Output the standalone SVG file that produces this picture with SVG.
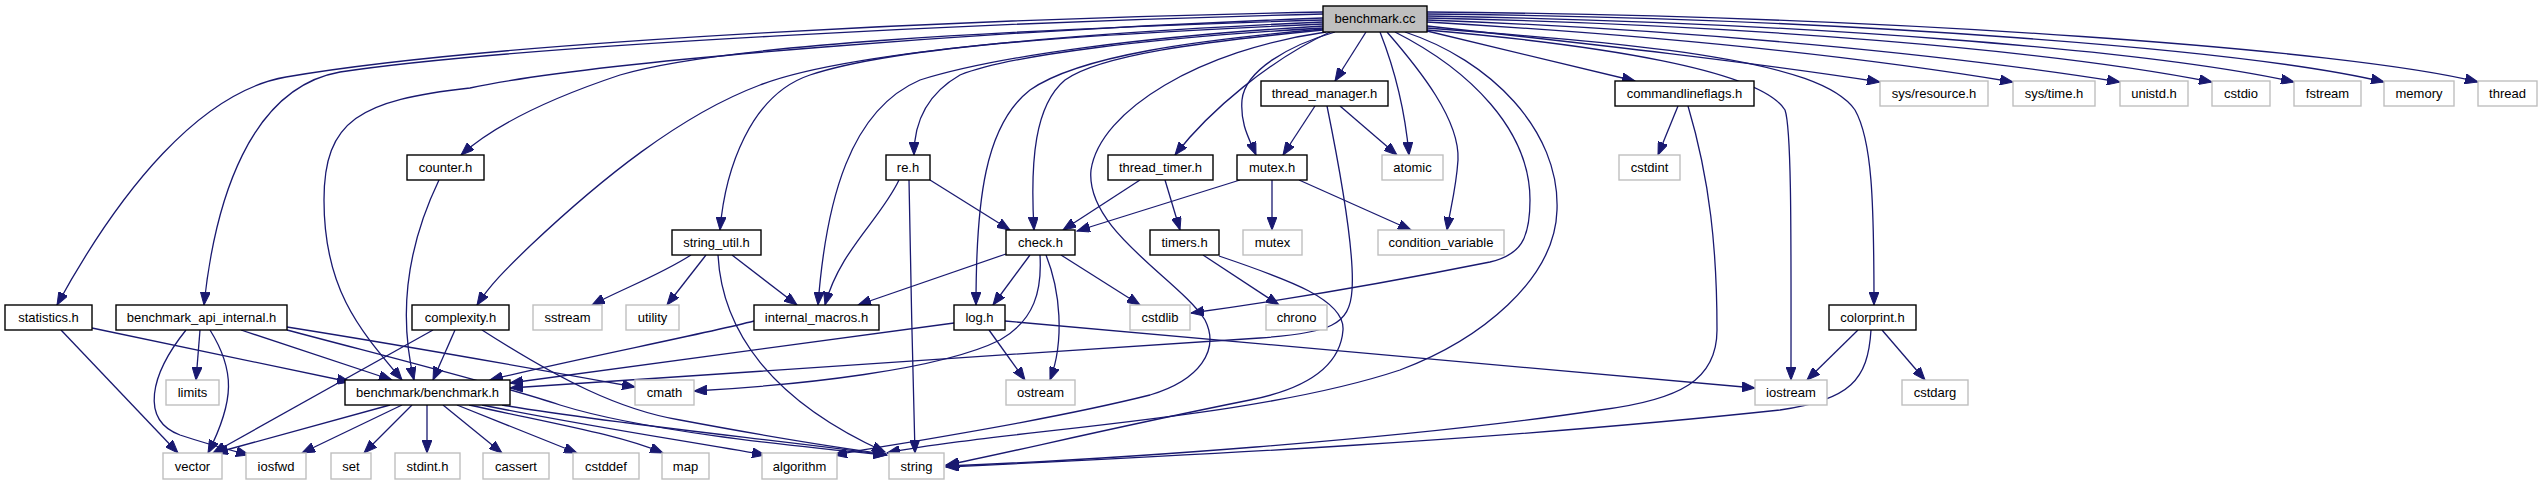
<svg xmlns="http://www.w3.org/2000/svg" width="2542" height="485" viewBox="0 0 2542 485">
<defs>
<style>
rect{fill:#fff;stroke:#000;stroke-width:1.4}
.g rect{stroke:#bfbfbf}
.root rect{fill:#bfbfbf}
text{font-family:"Liberation Sans",Arial,sans-serif;font-size:13px;fill:#000;text-anchor:middle}
#edges path{fill:none;stroke:#191970;stroke-width:1.3;marker-end:url(#a)}
</style>
<marker id="a" markerWidth="14" markerHeight="10" refX="13" refY="5" orient="auto" markerUnits="userSpaceOnUse"><path d="M0,0 L13,5 L0,10 z" fill="#191970" stroke="#191970" stroke-width="1"/></marker>
</defs>
<rect x="0" y="0" width="2542" height="485" style="fill:#fff;stroke:none"/>
<g id="edges">
<path d="M1323,12 C1000,18 500,40 286,77 C200,92 120,190 57,305"/>
<path d="M1323,14 C1000,22 520,45 340,72 C250,88 215,200 204,305"/>
<path d="M1323,18 C1000,30 600,60 470,88 C360,100 324,120 324,200 C324,290 360,330 402,380"/>
<path d="M1323,20 C1000,30 720,45 620,75 C560,95 500,120 461,155"/>
<path d="M1323,22 C1100,32 850,50 760,85 C680,115 600,180 531,245 C505,270 490,285 477,305"/>
<path d="M1323,24 C1100,34 900,45 810,75 C750,95 725,170 720,230"/>
<path d="M1323,26 C1150,36 1000,55 920,80 C850,110 826,200 818,305"/>
<path d="M1323,28 C1150,38 1010,55 960,75 C925,95 914,125 914,155"/>
<path d="M1323,29 C1200,40 1080,55 1030,90 C985,125 976,200 976,305"/>
<path d="M1323,30 C1200,42 1100,55 1065,80 C1035,105 1030,160 1034,230"/>
<path d="M1326,32 C1200,50 1100,110 1091,170 C1085,230 1180,280 1205,320 C1220,350 1200,380 1150,395 C1050,420 920,440 834,455"/>
<path d="M1335,32 C1290,45 1245,70 1242,100 C1240,125 1250,140 1256,155"/>
<path d="M1330,32 C1270,60 1210,110 1175,155"/>
<path d="M1366,32 L1335,81"/>
<path d="M1380,32 C1395,70 1405,110 1409,155"/>
<path d="M1387,32 C1420,70 1460,120 1458,160 C1456,190 1450,210 1447,230"/>
<path d="M1395,32 C1470,70 1530,130 1530,200 C1530,240 1520,255 1490,262 C1400,280 1300,298 1191,313"/>
<path d="M1405,32 C1490,60 1560,130 1557,210 C1555,280 1480,340 1400,370 C1250,420 1000,430 887,453"/>
<path d="M1427,31 L1635,81"/>
<path d="M1427,30 C1600,45 1760,70 1785,110 C1792,130 1791,250 1791,380"/>
<path d="M1427,28 C1650,45 1820,60 1855,110 C1872,140 1874,200 1874,305"/>
<path d="M1427,26 C1600,45 1750,62 1880,82"/>
<path d="M1427,22 C1650,35 1850,55 2013,82"/>
<path d="M1427,20 C1700,30 1950,55 2120,82"/>
<path d="M1427,18 C1750,25 2050,50 2212,82"/>
<path d="M1427,16 C1800,22 2150,50 2294,82"/>
<path d="M1427,14 C1850,18 2250,50 2384,82"/>
<path d="M1427,12 C1900,16 2350,50 2478,82"/>
<path d="M1315,106 L1283,155"/>
<path d="M1340,106 L1397,155"/>
<path d="M1327,106 C1340,170 1355,250 1352,290 C1350,325 1330,333 1260,338 C1000,355 700,375 510,388"/>
<path d="M1240,180 L1077,231"/>
<path d="M1272,180 L1272,230"/>
<path d="M1299,180 L1411,230"/>
<path d="M1140,180 L1063,230"/>
<path d="M1165,180 L1180,230"/>
<path d="M930,180 L1010,230"/>
<path d="M899,180 C880,220 840,250 825,305"/>
<path d="M909,180 C910,250 913,380 915,453"/>
<path d="M1006,254 L858,305"/>
<path d="M1030,255 L993,305"/>
<path d="M1040,255 C1042,290 1035,320 1000,340 C940,370 800,385 694,391"/>
<path d="M1046,255 C1060,290 1065,340 1050,380"/>
<path d="M1061,255 L1140,305"/>
<path d="M989,330 L1025,380"/>
<path d="M1005,321 L1755,388"/>
<path d="M954,323 L510,383"/>
<path d="M754,321 C700,335 560,362 490,380"/>
<path d="M691,255 C660,275 620,290 592,305"/>
<path d="M706,255 L667,305"/>
<path d="M732,255 L797,305"/>
<path d="M718,255 C722,330 770,400 885,452"/>
<path d="M1203,255 L1279,305"/>
<path d="M1219,256 C1290,280 1345,300 1343,330 C1340,370 1300,390 1250,400 C1100,430 1000,455 946,465"/>
<path d="M1858,330 L1807,380"/>
<path d="M1882,330 L1925,380"/>
<path d="M1871,330 C1868,380 1850,400 1780,410 C1500,440 1200,455 946,467"/>
<path d="M1678,106 L1658,155"/>
<path d="M1688,106 C1710,180 1717,250 1717,330 C1717,380 1680,400 1600,410 C1400,440 1100,460 946,466"/>
<path d="M439,180 C415,230 395,300 414,380"/>
<path d="M61,330 L178,453"/>
<path d="M92,328 L350,382"/>
<path d="M200,330 L196,380"/>
<path d="M210,330 C235,370 235,400 208,453"/>
<path d="M186,330 C150,375 140,420 180,435 C210,445 230,450 249,455"/>
<path d="M241,330 L392,380"/>
<path d="M287,327 C400,345 530,368 635,387"/>
<path d="M287,330 C400,360 500,385 560,405 C640,430 780,445 886,455"/>
<path d="M433,330 L213,453"/>
<path d="M455,330 L433,380"/>
<path d="M482,330 C560,380 620,410 680,420 C760,435 840,448 886,454"/>
<path d="M390,405 L215,453"/>
<path d="M402,405 L302,453"/>
<path d="M412,405 L364,453"/>
<path d="M427,405 L427,453"/>
<path d="M443,405 L502,453"/>
<path d="M457,405 L577,453"/>
<path d="M469,405 C560,425 620,435 663,453"/>
<path d="M482,405 C580,425 680,440 765,455"/>
<path d="M502,405 C620,425 780,440 887,455"/>
</g>
<g id="n_benchmark_cc" class="root"><rect x="1323" y="6" width="104" height="26"/><text x="1375" y="23">benchmark.cc</text></g>
<g id="n_thread_manager_h"><rect x="1261" y="81" width="127" height="25"/><text x="1324.5" y="98">thread_manager.h</text></g>
<g id="n_commandlineflags_h"><rect x="1615" y="81" width="139" height="25"/><text x="1684.5" y="98">commandlineflags.h</text></g>
<g id="n_sys_resource_h" class="g"><rect x="1880" y="81" width="108" height="25"/><text x="1934" y="98">sys/resource.h</text></g>
<g id="n_sys_time_h" class="g"><rect x="2013" y="81" width="82" height="25"/><text x="2054" y="98">sys/time.h</text></g>
<g id="n_unistd_h" class="g"><rect x="2120" y="81" width="68" height="25"/><text x="2154" y="98">unistd.h</text></g>
<g id="n_cstdio" class="g"><rect x="2212" y="81" width="58" height="25"/><text x="2241" y="98">cstdio</text></g>
<g id="n_fstream" class="g"><rect x="2294" y="81" width="67" height="25"/><text x="2327.5" y="98">fstream</text></g>
<g id="n_memory" class="g"><rect x="2384" y="81" width="70" height="25"/><text x="2419" y="98">memory</text></g>
<g id="n_thread" class="g"><rect x="2478" y="81" width="59" height="25"/><text x="2507.5" y="98">thread</text></g>
<g id="n_counter_h"><rect x="407" y="155" width="77" height="25"/><text x="445.5" y="172">counter.h</text></g>
<g id="n_re_h"><rect x="886" y="155" width="44" height="25"/><text x="908" y="172">re.h</text></g>
<g id="n_thread_timer_h"><rect x="1108" y="155" width="105" height="25"/><text x="1160.5" y="172">thread_timer.h</text></g>
<g id="n_mutex_h"><rect x="1237" y="155" width="70" height="25"/><text x="1272" y="172">mutex.h</text></g>
<g id="n_atomic" class="g"><rect x="1382" y="155" width="61" height="25"/><text x="1412.5" y="172">atomic</text></g>
<g id="n_cstdint" class="g"><rect x="1619" y="155" width="61" height="25"/><text x="1649.5" y="172">cstdint</text></g>
<g id="n_string_util_h"><rect x="672" y="230" width="89" height="25"/><text x="716.5" y="247">string_util.h</text></g>
<g id="n_check_h"><rect x="1006" y="230" width="69" height="25"/><text x="1040.5" y="247">check.h</text></g>
<g id="n_timers_h"><rect x="1150" y="230" width="69" height="25"/><text x="1184.5" y="247">timers.h</text></g>
<g id="n_mutex" class="g"><rect x="1243" y="230" width="59" height="25"/><text x="1272.5" y="247">mutex</text></g>
<g id="n_condition_variable" class="g"><rect x="1378" y="230" width="126" height="25"/><text x="1441" y="247">condition_variable</text></g>
<g id="n_statistics_h"><rect x="5" y="305" width="87" height="25"/><text x="48.5" y="322">statistics.h</text></g>
<g id="n_benchmark_api_internal_h"><rect x="116" y="305" width="171" height="25"/><text x="201.5" y="322">benchmark_api_internal.h</text></g>
<g id="n_complexity_h"><rect x="412" y="305" width="97" height="25"/><text x="460.5" y="322">complexity.h</text></g>
<g id="n_sstream" class="g"><rect x="533" y="305" width="69" height="25"/><text x="567.5" y="322">sstream</text></g>
<g id="n_utility" class="g"><rect x="626" y="305" width="53" height="25"/><text x="652.5" y="322">utility</text></g>
<g id="n_internal_macros_h"><rect x="754" y="305" width="125" height="25"/><text x="816.5" y="322">internal_macros.h</text></g>
<g id="n_log_h"><rect x="954" y="305" width="51" height="25"/><text x="979.5" y="322">log.h</text></g>
<g id="n_cstdlib" class="g"><rect x="1130" y="305" width="60" height="25"/><text x="1160" y="322">cstdlib</text></g>
<g id="n_chrono" class="g"><rect x="1266" y="305" width="61" height="25"/><text x="1296.5" y="322">chrono</text></g>
<g id="n_colorprint_h"><rect x="1829" y="305" width="87" height="25"/><text x="1872.5" y="322">colorprint.h</text></g>
<g id="n_limits" class="g"><rect x="166" y="380" width="53" height="25"/><text x="192.5" y="397">limits</text></g>
<g id="n_benchmark_benchmark_h"><rect x="345" y="380" width="165" height="25"/><text x="427.5" y="397">benchmark/benchmark.h</text></g>
<g id="n_cmath" class="g"><rect x="635" y="380" width="59" height="25"/><text x="664.5" y="397">cmath</text></g>
<g id="n_ostream" class="g"><rect x="1006" y="380" width="69" height="25"/><text x="1040.5" y="397">ostream</text></g>
<g id="n_iostream" class="g"><rect x="1755" y="380" width="72" height="25"/><text x="1791" y="397">iostream</text></g>
<g id="n_cstdarg" class="g"><rect x="1902" y="380" width="66" height="25"/><text x="1935" y="397">cstdarg</text></g>
<g id="n_vector" class="g"><rect x="163" y="453" width="59" height="26"/><text x="192.5" y="471">vector</text></g>
<g id="n_iosfwd" class="g"><rect x="246" y="453" width="60" height="26"/><text x="276" y="471">iosfwd</text></g>
<g id="n_set" class="g"><rect x="331" y="453" width="40" height="26"/><text x="351" y="471">set</text></g>
<g id="n_stdint_h" class="g"><rect x="395" y="453" width="65" height="26"/><text x="427.5" y="471">stdint.h</text></g>
<g id="n_cassert" class="g"><rect x="483" y="453" width="66" height="26"/><text x="516" y="471">cassert</text></g>
<g id="n_cstddef" class="g"><rect x="573" y="453" width="66" height="26"/><text x="606" y="471">cstddef</text></g>
<g id="n_map" class="g"><rect x="662" y="453" width="47" height="26"/><text x="685.5" y="471">map</text></g>
<g id="n_algorithm" class="g"><rect x="762" y="453" width="75" height="26"/><text x="799.5" y="471">algorithm</text></g>
<g id="n_string" class="g"><rect x="889" y="453" width="55" height="26"/><text x="916.5" y="471">string</text></g>
</svg>
